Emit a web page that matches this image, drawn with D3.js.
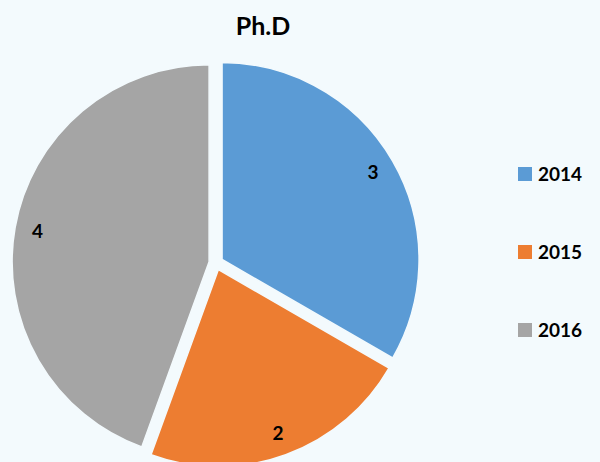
<!DOCTYPE html>
<html lang="en">
<head>
<meta charset="utf-8">
<title>Ph.D</title>
<script src="https://cdn.jsdelivr.net/npm/d3@7"></script>
<style>
body { margin: 0; background: #F3FAFD; }
svg { display: block; font-family: Lato, "Open Sans", sans-serif; }
</style>
</head>
<body>
<svg width="600" height="462"></svg>
<script>
// data
var years = ["2014", "2015", "2016"];
var counts = [3, 2, 4];
var colors = ["#5B9BD5", "#ED7D31", "#A5A5A5"];

var svg = d3.select("svg"),
    cx = 216, cy = 263,
    radius = 197,
    explode = 7;

svg.append("rect").attr("width", 600).attr("height", 462).attr("fill", "#F3FAFD");

svg.append("text")
    .attr("x", 263).attr("y", 35)
    .attr("text-anchor", "middle")
    .style("font-size", "25px").style("font-weight", "bold")
    .text("Ph.D");

var pie = d3.pie().sort(null).value(function(d) { return d; });
var arcs = pie(counts);
var arc = d3.arc().innerRadius(0).outerRadius(radius);
var labelArc = d3.arc().innerRadius(radius * 0.885).outerRadius(radius * 0.885);

var g = svg.append("g").attr("transform", "translate(" + cx + "," + cy + ")");

var slice = g.selectAll("g.slice")
  .data(arcs)
  .enter().append("g")
    .attr("class", "slice")
    .attr("transform", function(d) {
      var a = (d.startAngle + d.endAngle) / 2;
      return "translate(" + (Math.sin(a) * explode) + "," + (-Math.cos(a) * explode) + ")";
    });

slice.append("path")
    .attr("d", arc)
    .attr("fill", function(d, i) { return colors[i]; })
    .attr("stroke", "#F3FAFD")
    .attr("stroke-width", 1.5);

slice.append("text")
    .attr("transform", function(d) { return "translate(" + labelArc.centroid(d) + ")"; })
    .attr("text-anchor", "middle")
    .attr("dy", "0.36em")
    .style("font-size", "19px").style("font-weight", "bold")
    .text(function(d) { return d.data; });

var legend = svg.selectAll("g.legend")
  .data(years)
  .enter().append("g")
    .attr("class", "legend")
    .attr("transform", function(d, i) { return "translate(518," + (174 + i * 78) + ")"; });

legend.append("rect")
    .attr("x", 0).attr("y", -7)
    .attr("width", 14).attr("height", 14)
    .attr("fill", function(d, i) { return colors[i]; });

legend.append("text")
    .attr("x", 20).attr("dy", "0.36em")
    .style("font-size", "19px").style("font-weight", "bold")
    .text(function(d) { return d; });
</script>
</body>
</html>
